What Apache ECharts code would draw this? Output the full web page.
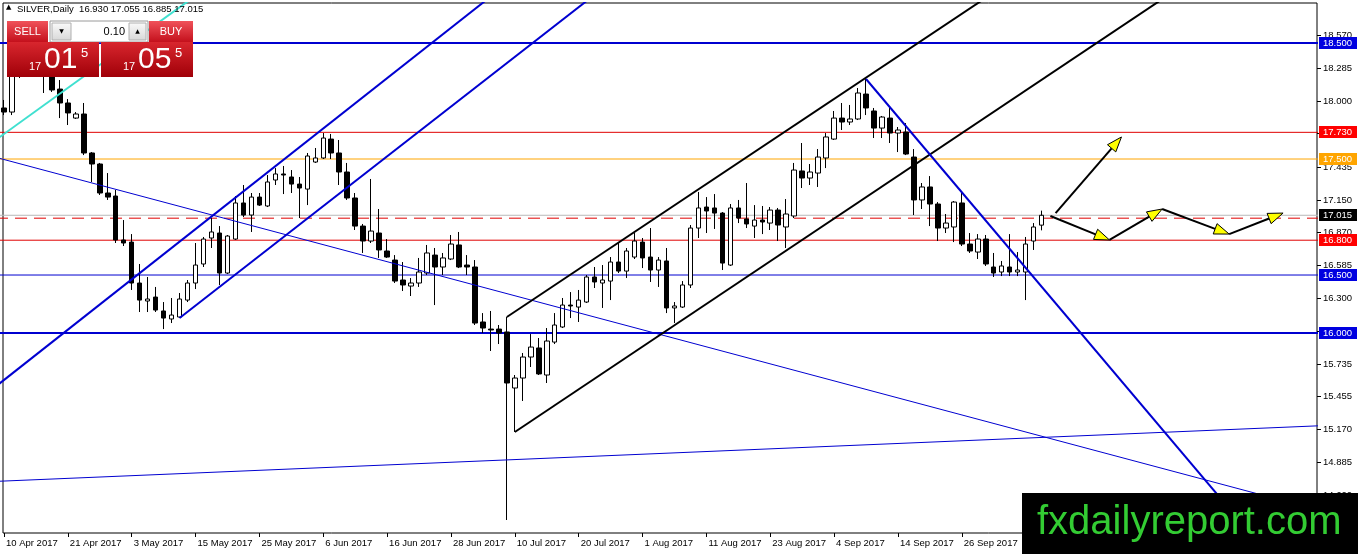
<!DOCTYPE html>
<html><head><meta charset="utf-8">
<script src="https://cdn.jsdelivr.net/npm/echarts@6/dist/echarts.min.js"></script>
<style>html,body{margin:0;padding:0;background:#fff}#c{width:1358px;height:554px}</style>
</head><body><div id="c"></div>
<script>
const dates = [
'10 Apr 2017','11 Apr 2017','12 Apr 2017','13 Apr 2017','17 Apr 2017','18 Apr 2017','19 Apr 2017','20 Apr 2017',
'21 Apr 2017','24 Apr 2017','25 Apr 2017','26 Apr 2017','27 Apr 2017','28 Apr 2017','1 May 2017','2 May 2017',
'3 May 2017','4 May 2017','5 May 2017','8 May 2017','9 May 2017','10 May 2017','11 May 2017','12 May 2017',
'15 May 2017','16 May 2017','17 May 2017','18 May 2017','19 May 2017','22 May 2017','23 May 2017','24 May 2017',
'25 May 2017','26 May 2017','29 May 2017','30 May 2017','31 May 2017','1 Jun 2017','2 Jun 2017','5 Jun 2017',
'6 Jun 2017','7 Jun 2017','8 Jun 2017','9 Jun 2017','12 Jun 2017','13 Jun 2017','14 Jun 2017','15 Jun 2017',
'16 Jun 2017','19 Jun 2017','20 Jun 2017','21 Jun 2017','22 Jun 2017','23 Jun 2017','26 Jun 2017','27 Jun 2017',
'28 Jun 2017','29 Jun 2017','30 Jun 2017','3 Jul 2017','4 Jul 2017','5 Jul 2017','6 Jul 2017','7 Jul 2017',
'10 Jul 2017','11 Jul 2017','12 Jul 2017','13 Jul 2017','14 Jul 2017','17 Jul 2017','18 Jul 2017','19 Jul 2017',
'20 Jul 2017','21 Jul 2017','24 Jul 2017','25 Jul 2017','26 Jul 2017','27 Jul 2017','28 Jul 2017','31 Jul 2017',
'1 Aug 2017','2 Aug 2017','3 Aug 2017','4 Aug 2017','7 Aug 2017','8 Aug 2017','9 Aug 2017','10 Aug 2017',
'11 Aug 2017','14 Aug 2017','15 Aug 2017','16 Aug 2017','17 Aug 2017','18 Aug 2017','21 Aug 2017','22 Aug 2017',
'23 Aug 2017','24 Aug 2017','25 Aug 2017','28 Aug 2017','29 Aug 2017','30 Aug 2017','31 Aug 2017','1 Sep 2017',
'4 Sep 2017','5 Sep 2017','6 Sep 2017','7 Sep 2017','8 Sep 2017','11 Sep 2017','12 Sep 2017','13 Sep 2017',
'14 Sep 2017','15 Sep 2017','18 Sep 2017','19 Sep 2017','20 Sep 2017','21 Sep 2017','22 Sep 2017','25 Sep 2017',
'26 Sep 2017','27 Sep 2017','28 Sep 2017','29 Sep 2017','2 Oct 2017','3 Oct 2017','4 Oct 2017','5 Oct 2017',
'6 Oct 2017','9 Oct 2017','10 Oct 2017'];

const open = [
17.940,17.905,18.250,18.371,18.509,18.440,18.233,18.103,17.983,17.853,
17.888,17.552,17.457,17.207,17.181,16.802,16.784,16.431,16.276,16.310,
16.190,16.121,16.138,16.284,16.431,16.595,16.819,16.862,16.517,16.810,
17.121,17.017,17.172,17.095,17.319,17.371,17.345,17.284,17.241,17.474,
17.509,17.672,17.552,17.388,17.164,16.922,16.793,16.862,16.707,16.629,
16.457,16.405,16.431,16.517,16.672,16.569,16.638,16.759,16.586,16.569,
16.095,16.034,16.034,16.009,15.526,15.612,15.793,15.871,15.638,15.922,
16.052,16.241,16.224,16.267,16.483,16.431,16.448,16.612,16.534,16.655,
16.784,16.655,16.543,16.621,16.216,16.224,16.414,16.905,17.086,17.078,
17.034,16.586,17.078,16.983,16.922,16.974,16.948,17.060,16.914,17.009,
17.397,17.336,17.379,17.509,17.672,17.853,17.819,17.845,18.060,17.914,
17.767,17.853,17.724,17.733,17.517,17.147,17.259,17.112,16.905,16.914,
17.121,16.767,16.698,16.810,16.569,16.526,16.569,16.526,16.526,16.793,
16.930];
const high = [
18.009,18.310,18.397,18.595,18.629,18.480,18.284,18.181,18.017,17.905,
17.983,17.560,17.466,17.379,17.233,16.974,16.853,16.595,16.483,16.397,
16.267,16.302,16.345,16.457,16.776,16.828,16.991,16.922,16.845,17.181,
17.276,17.207,17.207,17.362,17.422,17.440,17.405,17.345,17.552,17.595,
17.724,17.716,17.664,17.466,17.207,16.940,17.328,17.069,16.810,16.672,
16.612,16.474,16.647,16.759,16.733,16.690,16.845,16.871,16.672,16.629,
16.172,16.190,16.069,16.138,15.638,15.828,15.991,15.957,16.043,16.172,
16.302,16.353,16.371,16.500,16.569,16.586,16.655,16.776,16.733,16.862,
16.819,16.905,16.655,16.733,16.267,16.448,16.931,17.216,17.172,17.198,
17.043,17.112,17.147,17.293,17.103,17.095,17.086,17.078,17.155,17.466,
17.638,17.457,17.586,17.724,17.914,17.983,17.966,18.112,18.190,17.940,
17.871,17.940,17.776,17.810,17.586,17.293,17.353,17.129,17.026,17.138,
17.207,16.862,16.853,16.845,16.690,16.621,16.853,16.698,16.828,16.948,
17.055];
const low = [
17.879,17.879,18.198,18.336,18.371,18.069,18.078,17.853,17.793,17.845,
17.534,17.302,17.190,17.147,16.776,16.750,16.371,16.181,16.181,16.181,
16.034,16.086,16.129,16.267,16.379,16.569,16.733,16.414,16.509,16.802,
17.000,16.871,17.095,17.086,17.276,17.198,17.207,16.991,17.103,17.466,
17.500,17.500,17.276,17.147,16.888,16.690,16.776,16.647,16.647,16.431,
16.362,16.319,16.397,16.500,16.241,16.500,16.629,16.560,16.500,16.069,
16.000,15.845,15.905,14.388,15.147,15.414,15.707,15.638,15.569,15.905,
16.043,16.129,16.095,16.259,16.388,16.216,16.284,16.517,16.474,16.638,
16.560,16.440,16.397,16.172,16.086,16.216,16.388,16.819,16.862,16.897,
16.543,16.578,16.948,16.905,16.819,16.853,16.888,16.793,16.733,16.991,
17.250,17.276,17.259,17.422,17.664,17.750,17.793,17.836,17.879,17.681,
17.681,17.638,17.560,17.534,17.017,17.069,16.922,16.793,16.862,16.784,
16.750,16.690,16.638,16.578,16.483,16.491,16.491,16.491,16.284,16.716,
16.885];
const close = [
17.905,18.250,18.371,18.509,18.440,18.284,18.095,17.983,17.897,17.888,
17.552,17.457,17.207,17.172,16.802,16.776,16.431,16.284,16.293,16.198,
16.129,16.155,16.293,16.431,16.586,16.810,16.871,16.517,16.836,17.121,
17.017,17.172,17.103,17.302,17.371,17.362,17.284,17.250,17.526,17.509,
17.681,17.552,17.388,17.164,16.922,16.793,16.879,16.716,16.655,16.448,
16.414,16.431,16.526,16.690,16.569,16.647,16.767,16.569,16.569,16.086,
16.043,16.026,16.000,15.569,15.612,15.793,15.879,15.647,15.931,16.069,
16.241,16.233,16.284,16.483,16.440,16.457,16.612,16.534,16.707,16.793,
16.647,16.543,16.629,16.216,16.233,16.414,16.905,17.078,17.052,17.034,
16.603,17.078,16.991,16.940,16.974,16.957,17.060,16.931,17.026,17.405,
17.336,17.388,17.517,17.690,17.853,17.819,17.845,18.069,17.940,17.767,
17.862,17.724,17.750,17.543,17.147,17.259,17.112,16.905,16.948,17.129,
16.767,16.707,16.810,16.595,16.517,16.578,16.526,16.543,16.767,16.914,
17.015];

// price-axis tick labels
const yTicks = [18.570,18.285,18.000,17.720,17.435,17.150,16.870,16.585,16.300,16.015,15.735,15.455,15.170,14.885,14.600];
// horizontal levels
const hLevels = [18.500,17.730,17.500,17.015,16.990,16.800,16.500,16.000];
// labelled levels on price scale
const levelTags = [18.500,17.730,17.500,17.015,16.800,16.500,16.000];
// trend lines: [bar index, price]
const cyanLine = [[-1,17.666],[25,18.957]];
const blueChanUpper = [[-1,15.541],[62,18.956]];
const blueChanLower = [[22,16.130],[75,18.970]];
const blueFallThin = [[-1,17.514],[165,14.468]];
const blueRiseThin = [[-1,14.721],[165,15.201]];
const blackChanUpper = [[63,16.138],[125,18.981]];
const blackChanLower = [[64,15.147],[150,19.103]];
const blueDrop = [[108,18.190],[160,13.958]];
// forecast arrows
const forecastUp = [[131.75,17.034],[140,17.690]];
const forecastPath = [[131.1,17.009],[138.5,16.802],[145.1,17.069],[153.5,16.853],[160.25,17.034]];

// ---------- styles ----------
const BLUE = '#0000d0', RED = '#e00000', ORANGE = '#ffa500';
const hStyles = [
  {color:BLUE,width:2,type:'solid'},{color:RED,width:1,type:'solid'},{color:ORANGE,width:1,type:'solid'},
  {color:'#b8b8b8',width:1,type:'solid'},{color:RED,width:1,type:[12,7]},{color:RED,width:1,type:'solid'},
  {color:BLUE,width:1,type:'solid'},{color:BLUE,width:2,type:'solid'}];
const tagColors = ['#0000e0','#ff0000','#ffa500','#000000','#ff0000','#0000e0','#0000e0'];

const N = 165;
const axisCats = dates.concat(new Array(N - dates.length).fill(''));
const showIdx = (i) => i % 8 === 0 && i < dates.length;
const FONT = '"Liberation Sans", Arial, sans-serif';

const segs = [];
for (let i = 0; i < forecastPath.length - 1; i++) segs.push([forecastPath[i][0],forecastPath[i][1],forecastPath[i+1][0],forecastPath[i+1][1]]);
segs.push([forecastUp[0][0],forecastUp[0][1],forecastUp[1][0],forecastUp[1][1]]);

function trend(data, style, z) {
  return {type:'line', xAxisIndex:1, yAxisIndex:0, data, symbol:'none', silent:true, clip:true,
    lineStyle:style, z: z || 4};
}

const chart = echarts.init(document.getElementById('c'), null, {renderer:'canvas'});
const last = dates.length - 1;
const f3 = v => v.toFixed(3);
const redGrad = {type:'linear',x:0,y:0,x2:0,y2:1,colorStops:[{offset:0,color:'#f0525a'},{offset:1,color:'#c4101c'}]};
const boxGrad = {type:'linear',x:0,y:0,x2:0,y2:1,colorStops:[{offset:0,color:'#d8262e'},{offset:1,color:'#a00008'}]};
const grayGrad = {type:'linear',x:0,y:0,x2:0,y2:1,colorStops:[{offset:0,color:'#fafafa'},{offset:1,color:'#d8d8d8'}]};

const levelSeries = hLevels.map((v,i)=>trend([[-1,v],[N+1,v]], hStyles[i], 2));

chart.setOption({
  animation:false,
  backgroundColor:'#ffffff',
  grid:[
    {left:-1, top:3, right:41, bottom:21},
    {left:3, top:3, right:41, bottom:21, show:true, borderColor:'#000', borderWidth:1, backgroundColor:'rgba(0,0,0,0)'}
  ],
  xAxis:[
    {type:'category', gridIndex:0, data:axisCats, boundaryGap:true,
     axisLine:{show:false},
     axisTick:{show:true, interval:showIdx, alignWithLabel:true, length:4, lineStyle:{color:'#000'}},
     axisLabel:{interval:showIdx, align:'left', padding:[0,0,0,2], margin:5, color:'#000', fontFamily:FONT, fontSize:9.5},
     splitLine:{show:false}},
    {type:'value', gridIndex:0, min:-0.5, max:N-0.5, show:false},
    {type:'value', gridIndex:1, min:0, max:1, show:false}
  ],
  yAxis:[
    {type:'value', gridIndex:0, min:14.276, max:18.845, position:'right', show:true,
     axisLine:{show:false}, axisTick:{show:false}, axisLabel:{show:false}, splitLine:{show:false}},
    {type:'value', gridIndex:1, min:0, max:1, show:false}
  ],
  series: levelSeries.concat([
    {type:'candlestick', xAxisIndex:0, yAxisIndex:0, barWidth:5, silent:true, z:3,
     data: dates.map((d,i)=>[open[i], close[i], low[i], high[i]]),
     itemStyle:{color:'#ffffff', color0:'#000000', borderColor:'#000000', borderColor0:'#000000', borderWidth:1}
    },
    trend(cyanLine, {color:'#40e0d0', width:2}),
    trend(blueChanUpper, {color:BLUE, width:2}),
    trend(blueChanLower, {color:BLUE, width:2}),
    trend(blueFallThin, {color:BLUE, width:1}),
    trend(blueRiseThin, {color:BLUE, width:1}),
    trend(blackChanUpper, {color:'#000', width:2}),
    trend(blackChanLower, {color:'#000', width:2}),
    trend(blueDrop, {color:BLUE, width:2}),
    {type:'custom', xAxisIndex:1, yAxisIndex:0, data:segs, encode:{x:[0,2], y:[1,3]}, z:6, silent:true,
     renderItem:(params, api)=>{
       const p1 = api.coord([api.value(0), api.value(1)]);
       const p2 = api.coord([api.value(2), api.value(3)]);
       const dx = p2[0]-p1[0], dy = p2[1]-p1[1], L = Math.hypot(dx,dy), ux = dx/L, uy = dy/L;
       const hl = 15, hw = 5.5, bx = p2[0]-ux*hl, by = p2[1]-uy*hl;
       return {type:'group', children:[
         {type:'line', shape:{x1:p1[0],y1:p1[1],x2:bx,y2:by}, style:{stroke:'#000', lineWidth:2}},
         {type:'polygon', shape:{points:[[p2[0],p2[1]],[bx-uy*hw,by+ux*hw],[bx+uy*hw,by-ux*hw]]},
          style:{fill:'#ffff00', stroke:'#000', lineWidth:1}}
       ]};
     }},
    {type:'custom', xAxisIndex:1, yAxisIndex:0, data:yTicks.map(v=>[0,v]), encode:{x:0,y:1}, z:7, silent:true, clip:false,
     renderItem:(params, api)=>{
       const y = Math.round(api.coord([0, api.value(1)])[1]) + 0.5;
       const xr = params.coordSys.x + params.coordSys.width;
       return {type:'group', children:[
         {type:'line', shape:{x1:xr, y1:y, x2:xr+4, y2:y}, style:{stroke:'#000', lineWidth:1}},
         {type:'text', style:{text:f3(api.value(1)), x:xr+6, y:y, verticalAlign:'middle', align:'left', fill:'#000', font:'9.5px '+FONT}}
       ]};
     }},
    {type:'custom', xAxisIndex:1, yAxisIndex:0, data:levelTags.map((v,i)=>[0,v,i]), encode:{x:0,y:1}, z:8, silent:true, clip:false,
     renderItem:(params, api)=>{
       const y = api.coord([0, api.value(1)])[1];
       const xr = params.coordSys.x + params.coordSys.width;
       const i = api.value(2);
       return {type:'group', children:[
         {type:'rect', shape:{x:xr+2, y:Math.round(y)-6, width:38, height:12}, style:{fill:tagColors[i]}},
         {type:'text', style:{text:f3(api.value(1)), x:xr+6, y:Math.round(y)+0.5, verticalAlign:'middle', align:'left', fill:'#fff', font:'9.5px '+FONT}}
       ]};
     }}
  ]),
  graphic:[
    {type:'text', x:6, y:4, z:100, style:{text:'\u25B2', fill:'#000', font:'7px "DejaVu Sans"'}},
    {type:'text', x:17, y:4, z:100, style:{text:'SILVER,Daily  ' + [open[last],high[last],low[last],close[last]].map(f3).join(' '), fill:'#000', font:'9.5px '+FONT}},
    // one-click trading panel
    {type:'rect', z:100, shape:{x:7,y:21,width:41,height:21}, style:{fill:redGrad}},
    {type:'text', z:101, x:27.5, y:31.5, style:{text:'SELL', fill:'#fff', font:'11px '+FONT, align:'center', verticalAlign:'middle'}},
    {type:'rect', z:100, shape:{x:50,y:21,width:98,height:21}, style:{fill:'#ffffff', stroke:'#9a9a9a', lineWidth:1}},
    {type:'rect', z:101, shape:{x:52,y:23,width:19,height:17}, style:{fill:grayGrad, stroke:'#b0b0b0', lineWidth:1}},
    {type:'text', z:102, x:61.5, y:31.5, style:{text:'\u25BC', fill:'#000', font:'6px "DejaVu Sans"', align:'center', verticalAlign:'middle'}},
    {type:'text', z:101, x:125, y:31.5, style:{text:'0.10', fill:'#000', font:'11px '+FONT, align:'right', verticalAlign:'middle'}},
    {type:'rect', z:101, shape:{x:129,y:23,width:17,height:17}, style:{fill:grayGrad, stroke:'#b0b0b0', lineWidth:1}},
    {type:'text', z:102, x:137.5, y:31.5, style:{text:'\u25B2', fill:'#000', font:'6px "DejaVu Sans"', align:'center', verticalAlign:'middle'}},
    {type:'rect', z:100, shape:{x:149,y:21,width:44,height:21}, style:{fill:redGrad}},
    {type:'text', z:101, x:171, y:31.5, style:{text:'BUY', fill:'#fff', font:'11px '+FONT, align:'center', verticalAlign:'middle'}},
    {type:'rect', z:100, shape:{x:7,y:42,width:92,height:35}, style:{fill:boxGrad}},
    {type:'rect', z:100, shape:{x:101,y:42,width:92,height:35}, style:{fill:boxGrad}},
    {type:'text', z:101, x:29, y:72, style:{text:'17', fill:'#fff', font:'11px '+FONT, verticalAlign:'bottom'}},
    {type:'text', z:101, x:44, y:75, style:{text:'01', fill:'#fff', font:'30px '+FONT, verticalAlign:'bottom'}},
    {type:'text', z:101, x:81, y:47, style:{text:'5', fill:'#fff', font:'13px '+FONT, verticalAlign:'top'}},
    {type:'text', z:101, x:123, y:72, style:{text:'17', fill:'#fff', font:'11px '+FONT, verticalAlign:'bottom'}},
    {type:'text', z:101, x:138, y:75, style:{text:'05', fill:'#fff', font:'30px '+FONT, verticalAlign:'bottom'}},
    {type:'text', z:101, x:175, y:47, style:{text:'5', fill:'#fff', font:'13px '+FONT, verticalAlign:'top'}},
    // watermark
    {type:'rect', z:110, shape:{x:1022,y:493,width:336,height:61}, style:{fill:'#000'}},
    {type:'text', z:111, x:1037, y:523, style:{text:'fxdailyreport.com', fill:'#33cc33', font:'40px '+FONT, verticalAlign:'middle'}}
  ]
});
</script>
</body></html>
